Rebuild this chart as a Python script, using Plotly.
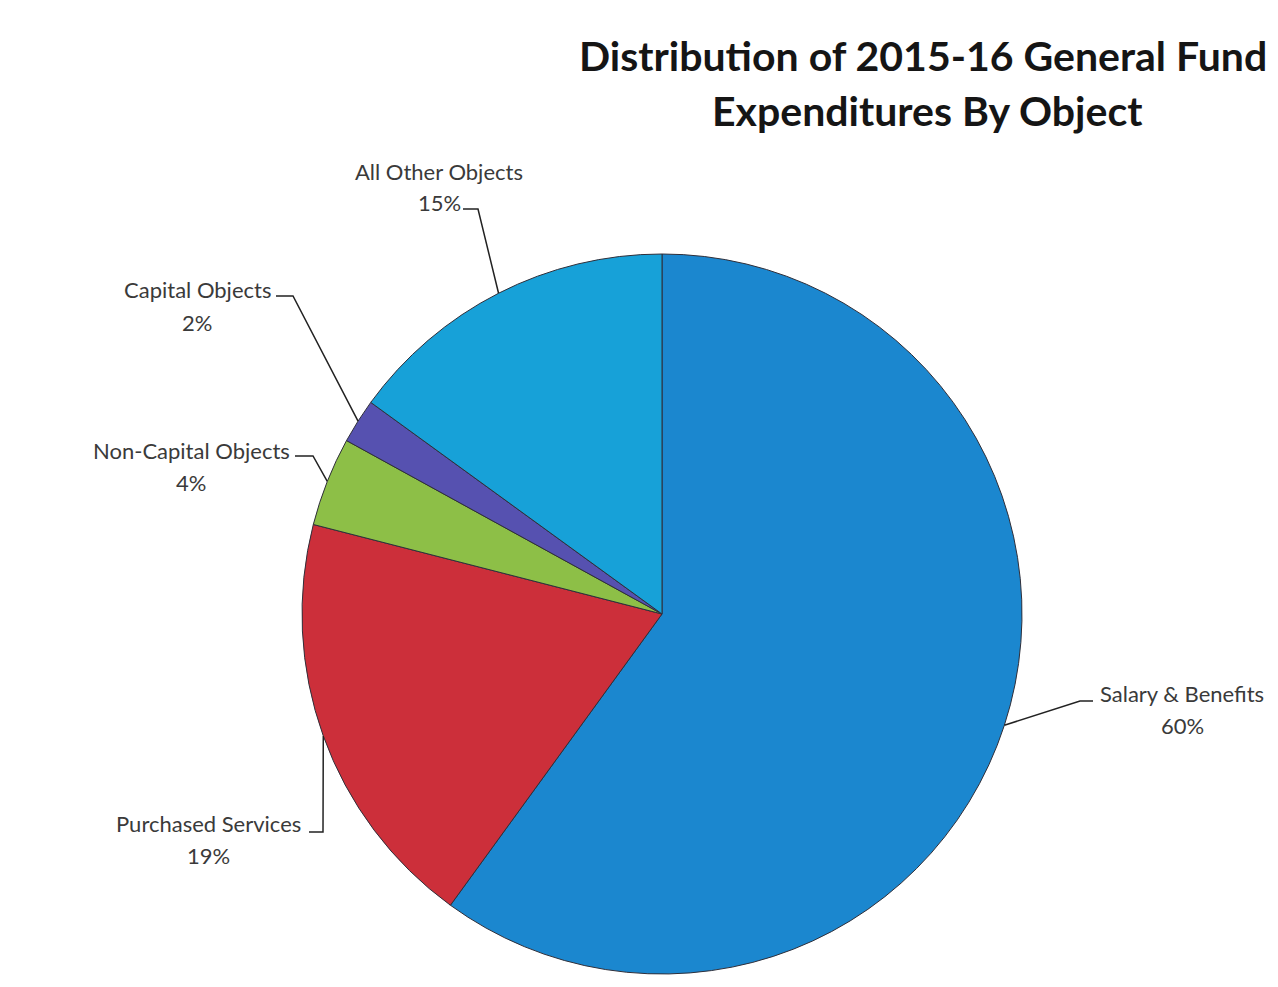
import math
import plotly.graph_objects as go

# ---- data ----
categories = ["Salary & Benefits", "Purchased Services", "Non-Capital Objects",
              "Capital Objects", "All Other Objects"]
values = [60, 19, 4, 2, 15]
colors = ["#1b87cf", "#cc2f3a", "#8dbf47", "#5651b0", "#17a1d8"]
title_lines = ["Distribution of 2015-16 General Fund", "Expenditures By Object"]

# ---- layout / style (pixels in a 1278x987 page) ----
W, H = 1278, 987
CX, CY, R = 662, 614, 360
# label centre positions (name line); percent line sits 32px lower
label_pos = {
    "Salary & Benefits": (1182, 693),
    "Purchased Services": (208, 823),
    "Non-Capital Objects": (191, 450),
    "Capital Objects": (197, 290),
    "All Other Objects": (439, 171),
}
# leader line: (start x, start y, elbow x) in pixels
leader = {
    "Salary & Benefits": (1093, 701, 1080),
    "Purchased Services": (309, 832, 323),
    "Non-Capital Objects": (295, 456, 313),
    "Capital Objects": (276, 296, 293),
    "All Other Objects": (463, 209, 478),
}

def px(x):
    return x / W

def py(y):
    return 1 - y / H

fig = go.Figure(go.Pie(
    labels=categories, values=values, sort=False, direction="clockwise",
    rotation=0, textinfo="none", hoverinfo="label+percent",
    marker=dict(colors=colors, line=dict(color="#2f2f3a", width=1)),
    domain=dict(x=[px(CX - R), px(CX + R)], y=[py(CY + R), py(CY - R)]),
    showlegend=False,
))

total = sum(values)
shapes = []
annotations = []
cum = 0
for cat, v in zip(categories, values):
    mid = (cum + v / 2) / total * 2 * math.pi
    cum += v
    ex = CX + R * math.sin(mid)
    ey = CY - R * math.cos(mid)
    sx, sy, elx = leader[cat]
    path = f"M {px(sx)} {py(sy)} L {px(elx)} {py(sy)} L {px(ex)} {py(ey)}"
    shapes.append(dict(type="path", xref="paper", yref="paper", path=path,
                       line=dict(color="#222222", width=1.5)))
    lx, ly = label_pos[cat]
    pct = f"{round(v / total * 100)}%"
    for txt, yy in ((cat, ly), (pct, ly + 32)):
        annotations.append(dict(x=px(lx), y=py(yy), xref="paper", yref="paper",
                                text=txt, showarrow=False, xanchor="center",
                                yanchor="middle",
                                font=dict(family="Lato", size=22, color="#3a3a3a")))

for i, (t, cx, cy) in enumerate(zip(title_lines, [923, 927], [56, 111])):
    annotations.append(dict(x=px(cx), y=py(cy), xref="paper", yref="paper",
                            text=f"<b>{t}</b>", showarrow=False, xanchor="center",
                            yanchor="middle",
                            font=dict(family="Lato", size=41, color="#151515")))

fig.update_layout(width=W, height=H, margin=dict(l=0, r=0, t=0, b=0),
                  paper_bgcolor="white", plot_bgcolor="white",
                  shapes=shapes, annotations=annotations)

fig.write_html("out.html")
